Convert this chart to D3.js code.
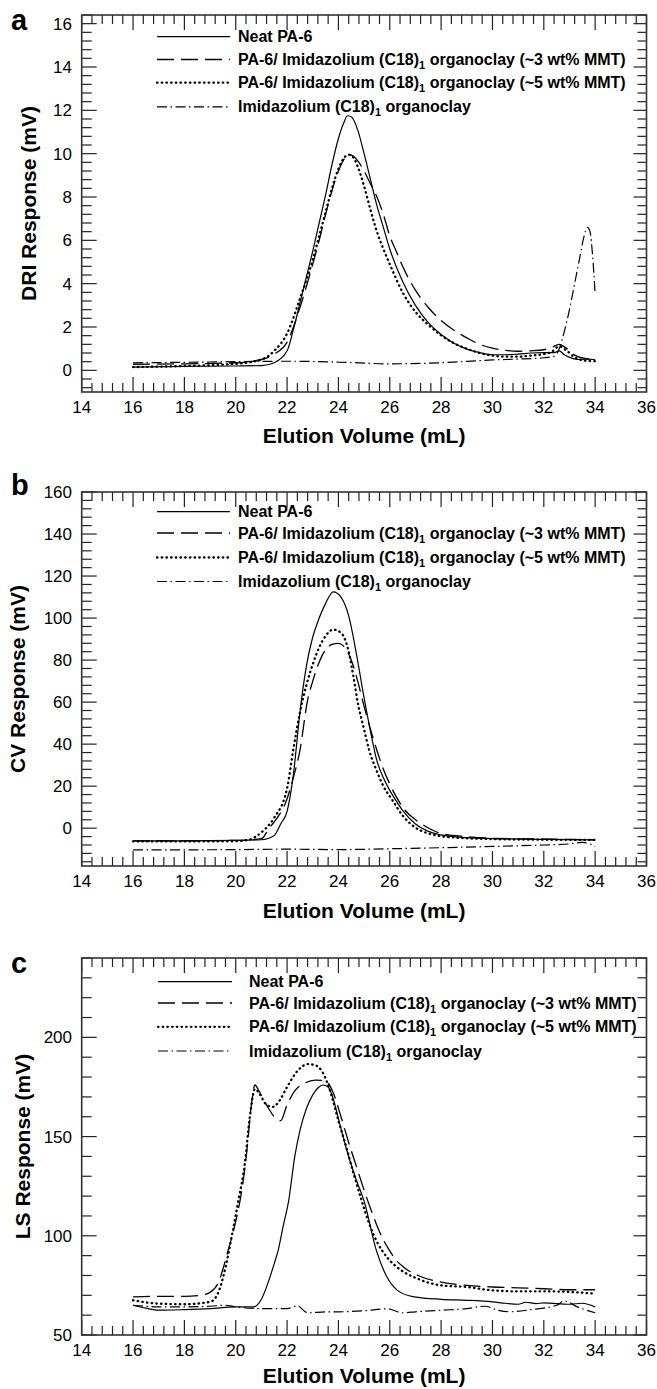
<!DOCTYPE html>
<html>
<head>
<meta charset="utf-8">
<script src="https://cdn.jsdelivr.net/npm/d3@7"></script>
<style>
  body { margin: 0; background: #fff; }
  svg text { font-family: "Liberation Sans", Arial, sans-serif; fill: #000; }
</style>
</head>
<body>
<svg id="chart" width="657" height="1389"></svg>
<script>

// shared x axis
var xTicks = [14, 16, 18, 20, 22, 24, 26, 28, 30, 32, 34, 36];
var xTitle = 'Elution Volume (mL)';

// legend entries: [text, subscript, text]
var legendNames = [
  ['Neat PA-6', '', ''],
  ['PA-6/ Imidazolium (C18)', '1', ' organoclay (~3 wt% MMT)'],
  ['PA-6/ Imidazolium (C18)', '1', ' organoclay (~5 wt% MMT)'],
  ['Imidazolium (C18)', '1', ' organoclay']
];

// ---- panel a : DRI ----
var driTicks = [0, 2, 4, 6, 8, 10, 12, 14, 16];
var driNeat = [[16,0.15],[18,0.18],[20,0.2],[21,0.22],[21.5,0.35],[22,0.9],[22.25,1.9],[22.5,3.1],[22.75,4.3],[23,5.5],[23.25,6.8],[23.5,8.1],[23.75,9.5],[24,10.7],[24.2,11.4],[24.35,11.75],[24.5,11.7],[24.75,11.1],[25,10.0],[25.25,8.8],[25.5,7.6],[25.75,6.6],[26,5.6],[26.5,4.1],[27,3.0],[27.5,2.2],[28,1.65],[28.5,1.25],[29,0.98],[29.5,0.82],[30,0.72],[30.5,0.72],[31,0.75],[31.5,0.8],[32,0.82],[32.4,0.82],[32.6,0.9],[32.8,0.72],[33,0.6],[33.3,0.5],[33.6,0.52],[34,0.5]];
var dri3wt = [[16,0.28],[18,0.3],[20,0.35],[21,0.5],[21.5,0.75],[22,1.3],[22.5,2.9],[23,4.9],[23.25,6.0],[23.5,7.2],[23.75,8.3],[24,9.2],[24.25,9.8],[24.45,9.95],[24.7,9.75],[25,9.2],[25.25,8.6],[25.5,8.0],[25.75,7.2],[26,6.2],[26.25,5.5],[26.5,4.8],[27,3.7],[27.5,2.9],[28,2.3],[28.5,1.85],[29,1.5],[29.5,1.2],[30,1.02],[30.5,0.92],[31,0.88],[31.5,0.9],[32,0.95],[32.3,1.05],[32.6,1.2],[32.9,1.0],[33.2,0.7],[33.6,0.55],[34,0.52]];
var dri5wt = [[16,0.15],[18,0.2],[20,0.3],[21,0.5],[21.5,0.9],[22,1.7],[22.5,3.3],[23,5.1],[23.25,6.2],[23.5,7.3],[23.75,8.4],[24,9.3],[24.25,9.85],[24.4,9.95],[24.6,9.8],[24.75,9.4],[25,8.5],[25.25,7.4],[25.5,6.4],[25.75,5.6],[26,4.9],[26.5,3.6],[27,2.7],[27.5,2.1],[28,1.62],[28.5,1.25],[29,1.0],[29.5,0.8],[30,0.68],[30.5,0.63],[31,0.63],[31.5,0.68],[32,0.75],[32.3,0.85],[32.6,1.1],[32.9,0.9],[33.2,0.6],[33.6,0.45],[34,0.42]];
var driClay = [[16,0.35],[18,0.37],[20,0.4],[22,0.42],[24,0.38],[26,0.3],[28,0.35],[30,0.48],[31,0.52],[32,0.58],[32.4,0.65],[32.6,1.0],[32.8,1.8],[33,2.8],[33.2,4.0],[33.4,5.2],[33.55,6.1],[33.7,6.6],[33.8,6.4],[33.9,5.3],[34,3.5]];

// ---- panel b : CV ----
var cvTicks = [0, 20, 40, 60, 80, 100, 120, 140, 160];
var cvNeat = [[16,-6],[18,-6],[20,-5.8],[21,-5.5],[21.5,-3.5],[21.75,2],[22,8],[22.25,26],[22.5,55],[22.75,77],[23,91],[23.25,100],[23.5,107],[23.8,112.5],[24.1,110],[24.4,101],[24.7,83],[25,62],[25.25,46],[25.5,32],[25.75,24],[26,18],[26.25,13],[26.5,8.5],[27,2],[27.5,-1.5],[28,-3.2],[29,-4.5],[30,-5],[32,-5.3],[34,-5.6]];
var cv3wt = [[16,-6],[18,-6],[20,-5.8],[21,-5],[21.3,0],[21.5,3],[22,14],[22.22,23],[22.5,37],[22.8,61],[23,70],[23.25,79],[23.5,85],[23.75,87.5],[24,88],[24.25,86],[24.5,80],[24.75,70],[25,58],[25.25,47],[25.5,37],[25.75,28],[26,21],[26.25,15],[26.5,10],[27,4],[27.4,0.8],[28,-2.5],[29,-4],[30,-4.8],[32,-5.2],[34,-5.5]];
var cv5wt = [[16,-6.3],[18,-6.3],[20,-6.2],[20.5,-5.5],[21,-2],[21.18,0],[21.5,5],[22,19],[22.25,38],[22.5,55],[22.75,68],[23,78],[23.25,86],[23.5,91.5],[23.8,94.5],[24.1,93],[24.4,84],[24.6,71],[24.75,60],[25,47],[25.2,37],[25.5,27],[25.75,20],[26.1,13.4],[26.5,6],[26.94,0.8],[27.5,-2.5],[28,-3.8],[29,-4.8],[30,-5.2],[32,-5.5],[34,-5.6]];
var cvClay = [[16,-10.3],[18,-10.3],[20,-10.2],[22,-10],[24,-10.2],[26,-9.8],[28,-9.3],[30,-8.7],[32,-8.0],[33,-7.5],[33.5,-6.8],[33.8,-7.5],[34,-8.7]];

// ---- panel c : LS ----
var lsTicks = [50, 100, 150, 200];
var lsNeat = [[16,65],[16.5,63.5],[17,62.5],[18,62.8],[19,63.3],[20,64.2],[20.7,64.2],[21,68],[21.25,76],[21.5,86],[21.65,92.5],[21.85,105],[22.06,117.5],[22.3,140],[22.5,153],[22.75,164],[23,171],[23.2,174.5],[23.4,176],[23.6,175],[23.8,169],[24,159],[24.34,142.5],[24.7,128],[25,117.5],[25.48,92.5],[25.89,79.2],[26.3,72.5],[26.95,69.2],[28,68],[29,67.5],[30,66.7],[30.5,66],[31,65.5],[31.3,66.5],[31.7,65.8],[32,66.2],[33,65.5],[33.5,66],[34,64.2]];
var ls3wt = [[16,69.2],[17,69.5],[18,69.5],[18.6,70],[19,71.5],[19.3,75.8],[19.7,92.5],[20.03,109],[20.27,125.8],[20.43,142.5],[20.6,165],[20.75,176],[20.9,173],[21.2,166],[21.5,160],[21.75,158],[22,166],[22.3,173],[22.7,177],[23.1,178.5],[23.5,178],[23.8,172],[24.1,160],[24.4,147],[24.7,135],[25,123],[25.3,112],[25.6,102],[25.97,93],[26.3,87],[26.54,84.2],[27.1,80],[28,76.7],[29,75],[30,74.2],[31,73.8],[32,73.3],[33,72.8],[34,72.8]];
var ls5wt = [[16,67.5],[17,65.8],[18,65.5],[19,66.7],[19.3,70.8],[19.6,84],[19.86,100.8],[20.1,117.5],[20.35,136],[20.55,160],[20.75,174],[20.95,171],[21.2,166],[21.45,165],[21.7,168],[22,175],[22.4,183],[22.8,186.5],[23.1,186],[23.4,182],[23.7,172],[24,158],[24.3,145],[24.6,131],[24.9,118],[25.2,106],[25.5,97],[25.89,89.2],[26.46,82.5],[27.1,78.3],[28,75],[29,74.2],[30,72.5],[31,72],[32,72],[33,71.7],[34,70.8]];
var lsClay = [[16,65],[17,64.2],[18,64.2],[19,64.5],[19.6,65],[20,64.2],[21,63.3],[22,63.3],[22.4,64.7],[22.8,61.2],[23.5,61.7],[24,61.7],[25,62.2],[25.9,63.2],[26.5,61.2],[27,61.7],[28,62.5],[29,63.3],[29.7,64.5],[30.2,62.5],[30.7,61.7],[31.5,62.8],[32.5,65],[32.8,67.2],[33.3,64.2],[34,61.2]];


var svg = d3.select('#chart');
var dashes = [null, '17,7', '0.5,4.2', '10,3.5,1.5,3.5'];
var widths = [1.2, 1.3, 2.3, 1.2];

var panels = [
  {letter: 'a', top: 15, bottom: 392, dom: [-1, 16.4], major: 2, minor: 0.4, ticks: driTicks,
   title: 'DRI Response (mV)', titleX: 28, letterY: 30, titleDy: 51,
   legRows: [36.7, 59.5, 82.7, 106.8], legLine: [157, 230], legText: 238,
   series: [driNeat, dri3wt, dri5wt, driClay]},
  {letter: 'b', top: 492, bottom: 866, dom: [-18, 160], major: 20, minor: 4, ticks: cvTicks,
   title: 'CV Response (mV)', titleX: 17, letterY: 495, titleDy: 52,
   legRows: [511.7, 533, 557.5, 581.5], legLine: [157, 230], legText: 238,
   series: [cvNeat, cv3wt, cv5wt, cvClay]},
  {letter: 'c', top: 958, bottom: 1335, dom: [50, 240], major: 50, minor: 10, ticks: lsTicks,
   title: 'LS Response (mV)', titleX: 22, letterY: 973, titleDy: 48,
   legRows: [981.7, 1003, 1026.8, 1051], legLine: [158, 232], legText: 249,
   series: [lsNeat, ls3wt, ls5wt, lsClay]}
];

var left = 81.7, right = 646.5;

function paintPanel(g) {
  var x = d3.scaleLinear().domain([14, 36]).range([left, right]);
  var y = d3.scaleLinear().domain(g.dom).range([g.bottom, g.top]);
  var grp = svg.append('g');

  // minor/major ticks along x (bottom + top, pointing inward)
  var xs = d3.range(0, 56).map(function(i) { return 14 + i * 0.4; });
  xs.forEach(function(v, i) {
    var len = (i % 5 === 0) ? 15 : 9;
    grp.append('line').attr('x1', x(v)).attr('x2', x(v))
      .attr('y1', g.bottom).attr('y2', g.bottom - len)
      .attr('stroke', '#222').attr('stroke-width', 1.2);
    grp.append('line').attr('x1', x(v)).attr('x2', x(v))
      .attr('y1', g.top).attr('y2', g.top + len)
      .attr('stroke', '#222').attr('stroke-width', 1.2);
  });

  // y ticks, both sides
  var n0 = Math.ceil(g.dom[0] / g.minor - 1e-6), n1 = Math.floor(g.dom[1] / g.minor + 1e-6);
  d3.range(n0, n1 + 1).forEach(function(k) {
    var v = k * g.minor;
    var isMajor = Math.abs(v / g.major - Math.round(v / g.major)) < 1e-6;
    var len = isMajor ? 15 : 10;
    grp.append('line').attr('x1', left).attr('x2', left + len)
      .attr('y1', y(v)).attr('y2', y(v))
      .attr('stroke', '#222').attr('stroke-width', 1.2);
    grp.append('line').attr('x1', right).attr('x2', right - (isMajor ? 13 : 9))
      .attr('y1', y(v)).attr('y2', y(v))
      .attr('stroke', '#222').attr('stroke-width', 1.2);
  });

  // frame
  grp.append('rect').attr('x', left).attr('y', g.top)
    .attr('width', right - left).attr('height', g.bottom - g.top)
    .attr('fill', 'none').attr('stroke', '#333').attr('stroke-width', 1.6);

  // tick labels
  grp.selectAll('.xl').data(xTicks).enter().append('text')
    .attr('x', function(d) { return x(d); })
    .attr('y', g.bottom + 21)
    .attr('text-anchor', 'middle')
    .style('font-size', '17px')
    .text(function(d) { return d; });

  grp.selectAll('.yl').data(g.ticks).enter().append('text')
    .attr('x', 72)
    .attr('y', function(d) { return y(d); })
    .attr('dy', '0.36em')
    .attr('text-anchor', 'end')
    .style('font-size', '17px')
    .text(function(d) { return d; });

  // axis titles
  grp.append('text')
    .attr('x', (left + right) / 2).attr('y', g.bottom + g.titleDy)
    .attr('text-anchor', 'middle')
    .style('font-size', '21px').style('font-weight', 'bold')
    .text(xTitle);

  grp.append('text')
    .attr('transform', 'translate(' + g.titleX + ',' + (g.top + g.bottom) / 2 + ') rotate(-90)')
    .attr('dy', '0.36em')
    .attr('text-anchor', 'middle')
    .style('font-size', '21px').style('font-weight', 'bold')
    .text(g.title);

  grp.append('text')
    .attr('x', 11).attr('y', g.letterY)
    .style('font-size', '29px').style('font-weight', 'bold')
    .text(g.letter);

  // curves
  var line = d3.line()
    .x(function(d) { return x(d[0]); })
    .y(function(d) { return y(d[1]); })
    .curve(d3.curveMonotoneX);

  g.series.forEach(function(s, i) {
    grp.append('path')
      .attr('d', line(s))
      .attr('fill', 'none')
      .attr('stroke', '#000')
      .attr('stroke-width', widths[i])
      .attr('stroke-linecap', i === 2 ? 'round' : 'butt')
      .attr('stroke-dasharray', dashes[i]);
  });

  // legend
  legendNames.forEach(function(nm, i) {
    var ly = g.legRows[i];
    grp.append('line')
      .attr('x1', g.legLine[0]).attr('x2', g.legLine[1])
      .attr('y1', ly).attr('y2', ly)
      .attr('stroke', '#000')
      .attr('stroke-width', widths[i])
      .attr('stroke-linecap', i === 2 ? 'round' : 'butt')
      .attr('stroke-dasharray', dashes[i]);
    var t = grp.append('text')
      .attr('x', g.legText).attr('y', ly + 5.6)
      .style('font-size', '16px').style('font-weight', 'bold');
    t.append('tspan').text(nm[0]);
    if (nm[1]) {
      t.append('tspan').attr('dy', 4).style('font-size', '11px').text(nm[1]);
      t.append('tspan').attr('dy', -4).text(nm[2]);
    }
  });
}

panels.forEach(paintPanel);

</script>
</body>
</html>
